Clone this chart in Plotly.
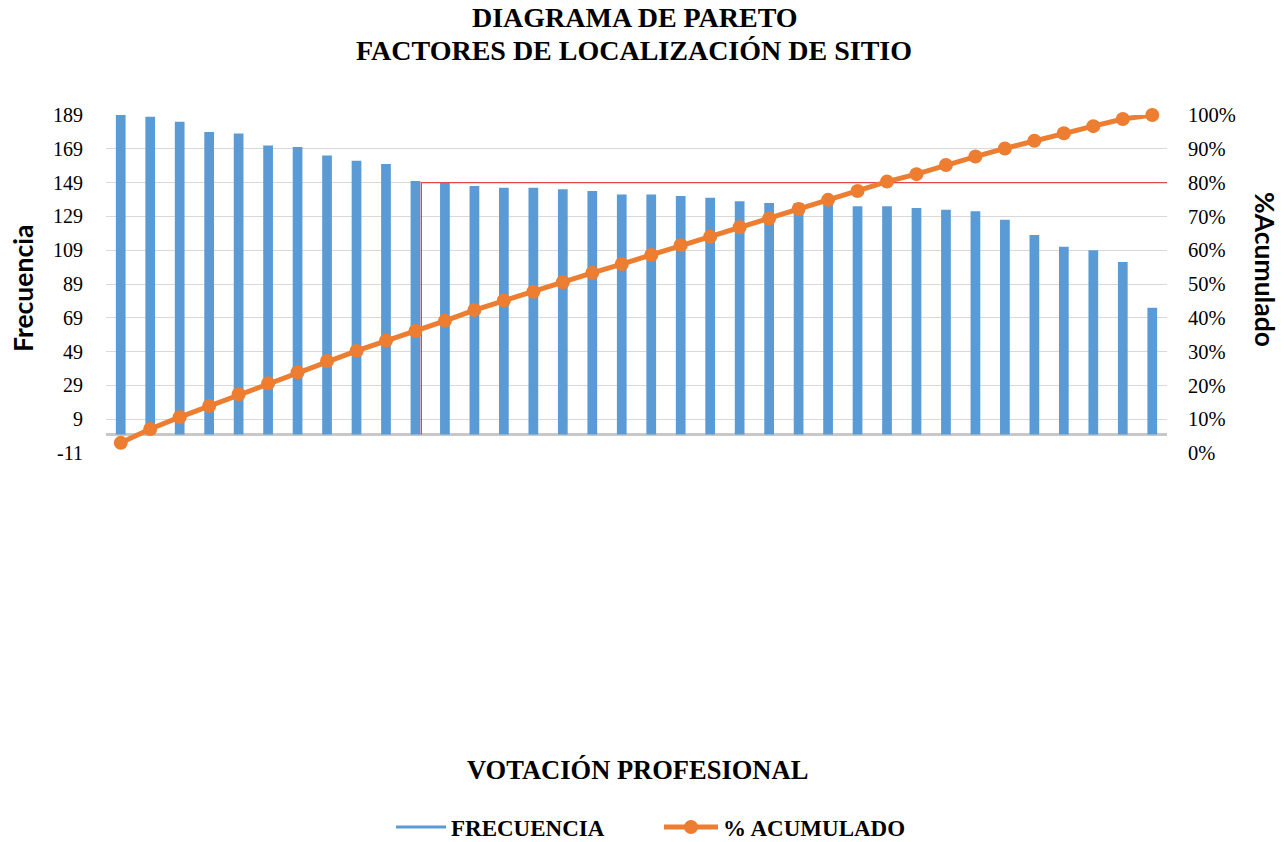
import plotly.graph_objects as go

# ---- data ----
factores = [f"Factor {i}" for i in range(1, 37)]
frecuencia = [189, 188, 185, 179, 178, 171, 170, 165, 162, 160, 150, 149,
              147, 146, 146, 145, 144, 142, 142, 141, 140, 138, 137, 137,
              136, 135, 135, 134, 133, 132, 127, 118, 111, 109, 102, 75]
pct_acumulado = [0.030, 0.071, 0.106, 0.139, 0.174, 0.206, 0.239, 0.272,
                 0.302, 0.332, 0.361, 0.391, 0.423, 0.451, 0.477, 0.505,
                 0.533, 0.559, 0.586, 0.615, 0.640, 0.668, 0.694, 0.722,
                 0.749, 0.775, 0.803, 0.825, 0.852, 0.877, 0.901, 0.924,
                 0.946, 0.967, 0.988, 1.000]
left_ticks = [-11, 9, 29, 49, 69, 89, 109, 129, 149, 169, 189]
right_ticks = [0, 0.1, 0.2, 0.3, 0.4, 0.5, 0.6, 0.7, 0.8, 0.9, 1.0]
right_labels = ["0%", "10%", "20%", "30%", "40%", "50%", "60%", "70%",
                "80%", "90%", "100%"]
umbral = 0.80          # 80 % reference line
corte_x = 10.2         # position (category units) of the vertical cut line

BLUE = "#5B9BD5"
ORANGE = "#ED7D31"
RED = "#E0484B"
SERIF = "Liberation Serif, Times New Roman, serif"
SANS = "Lato, Open Sans, sans-serif"

W, H = 1286, 842
L, R, T, B = 106, 119, 115, 389
PW, PH = W - L - R, H - T - B

def px_x(p):
    return (p - L) / PW

def px_y(p):
    return (H - B - p) / PH

y0, y1 = left_ticks[0], left_ticks[-1]
base_y2 = (0 - y0) / (y1 - y0)   # where the zero baseline sits on the % axis
n = len(factores)

fig = go.Figure()
fig.add_trace(go.Bar(
    x=list(range(n)), y=frecuencia, name="FRECUENCIA",
    marker=dict(color=BLUE, line=dict(width=0)), width=0.33,
    showlegend=False, hovertext=factores,
))
# 80 % reference lines (drawn on the % axis, below the cumulative line)
fig.add_trace(go.Scatter(
    x=[corte_x, corte_x, n - 0.5], y=[base_y2, umbral, umbral],
    mode="lines", yaxis="y2", line=dict(color=RED, width=1.3),
    showlegend=False, hoverinfo="skip",
))
fig.add_trace(go.Scatter(
    x=[None], y=[None], mode="lines", name="FRECUENCIA",
    line=dict(color=BLUE, width=3), legend="legend",
))
fig.add_trace(go.Scatter(
    x=list(range(n)), y=pct_acumulado, name="% ACUMULADO",
    mode="lines+markers", yaxis="y2", cliponaxis=False,
    line=dict(color=ORANGE, width=5),
    marker=dict(color=ORANGE, size=14), legend="legend2",
))

legend_font = dict(family=SERIF, size=23, color="black", weight="bold")

fig.update_layout(
    width=W, height=H,
    margin=dict(l=L, r=R, t=T, b=B, autoexpand=False),
    paper_bgcolor="white", plot_bgcolor="white",
    xaxis=dict(
        range=[-0.5, n - 0.5], showticklabels=False, showgrid=False,
        zeroline=False, showline=False, ticks="",
    ),
    yaxis=dict(
        range=[y0, y1], tickvals=left_ticks,
        ticktext=[str(v) for v in left_ticks],
        tickfont=dict(family=SERIF, size=20, color="black"),
        showgrid=True, gridcolor="#D9D9D9", gridwidth=1,
        zeroline=True, zerolinecolor="#C8C8C8", zerolinewidth=3,
        showline=False, ticks="", ticklabelstandoff=22,
    ),
    yaxis2=dict(
        range=[0, 1], tickvals=right_ticks, ticktext=right_labels,
        overlaying="y", side="right",
        tickfont=dict(family=SERIF, size=20.5, color="black"),
        showgrid=False, zeroline=False, showline=False, ticks="",
        ticklabelstandoff=20,
    ),
    legend=dict(
        orientation="h", x=px_x(391), xanchor="left",
        y=px_y(827), yanchor="middle", font=legend_font, itemwidth=50,
        bgcolor="rgba(0,0,0,0)",
    ),
    legend2=dict(
        orientation="h", x=px_x(659), xanchor="left",
        y=px_y(827), yanchor="middle", font=legend_font, itemwidth=54,
        bgcolor="rgba(0,0,0,0)",
    ),
    annotations=[
        dict(text="<b>DIAGRAMA DE PARETO</b>", xref="paper", yref="paper",
             x=px_x(635), y=px_y(18), showarrow=False,
             font=dict(family=SERIF, size=28, color="black"),
             xanchor="center", yanchor="middle"),
        dict(text="<b>FACTORES DE LOCALIZACIÓN DE SITIO</b>", xref="paper",
             yref="paper", x=px_x(634), y=px_y(50), showarrow=False,
             font=dict(family=SERIF, size=28, color="black"),
             xanchor="center", yanchor="middle"),
        dict(text="<b>Frecuencia</b>", xref="paper", yref="paper",
             x=px_x(23), y=px_y(289), textangle=-90, showarrow=False,
             font=dict(family=SANS, size=26.5, color="black"),
             xanchor="center", yanchor="middle"),
        dict(text="<b>%Acumulado</b>", xref="paper", yref="paper",
             x=px_x(1265), y=px_y(270), textangle=90, showarrow=False,
             font=dict(family=SANS, size=26.5, color="black"),
             xanchor="center", yanchor="middle"),
        dict(text="<b>VOTACIÓN PROFESIONAL</b>", xref="paper", yref="paper",
             x=px_x(637), y=px_y(770), showarrow=False,
             font=dict(family=SERIF, size=26.5, color="black"),
             xanchor="center", yanchor="middle"),
    ],
)

fig.write_html("out.html")
